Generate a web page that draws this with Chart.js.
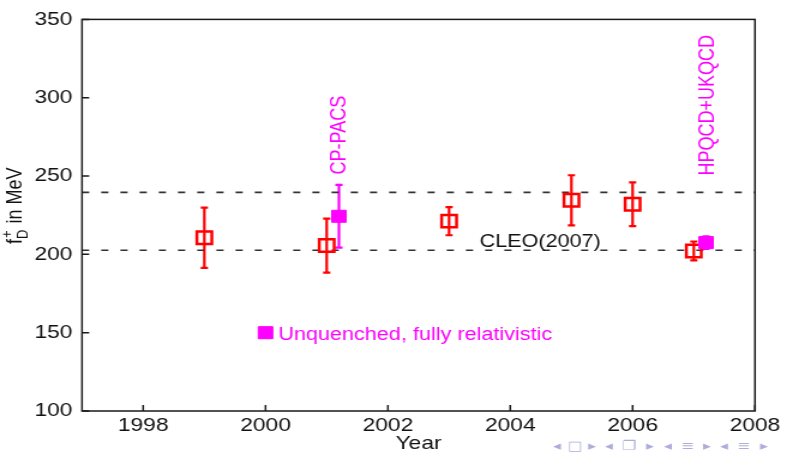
<!DOCTYPE html>
<html>
<head>
<meta charset="utf-8">
<script src="https://cdn.jsdelivr.net/npm/chart.js@4.4.1/dist/chart.umd.min.js"></script>
<style>
  html, body { margin: 0; padding: 0; background: #fff; overflow: hidden; }
  #chart { position: absolute; left: 0; top: 0; transform-origin: 0 0; transform: scaleX(1.19970); }
</style>
</head>
<body>
<canvas id="chart" width="656" height="452"></canvas>
<script>
// quenched / partially quenched results (red open squares)
const redYears = [1999, 2001, 2003, 2005, 2006, 2007];
const redValues = [210.6, 205.6, 221.2, 234.5, 232.0, 202.2];
const redErrors = [19.2, 17.2, 9.0, 16.0, 14.0, 6.0];

// unquenched, fully relativistic (magenta filled squares)
const magYears = [2001.2, 2007.2];
const magValues = [224.3, 207.5];
const magErrors = [20.0, 4.0];
const magLabels = ['CP-PACS', 'HPQCD+UKQCD'];

// legend marker
const legendPoint = [2000, 150];
const legendText = 'Unquenched, fully relativistic';

// CLEO(2007) band edges
const cleoBand = [239.6, 202.6];
const cleoText = 'CLEO(2007)';

const xTicks = [1998, 2000, 2002, 2004, 2006, 2008];
const yTicks = [100, 150, 200, 250, 300, 350];

const FONT = "'Liberation Sans', Arial, sans-serif";
const RED = '#ff0000';
const MAG = '#ff00ff';

function toPoints(xs, ys) {
  return xs.map((v, i) => ({ x: v, y: ys[i] }));
}

function drawErrors(ctx, xs, ys, xVals, yVals, errs, color) {
  ctx.strokeStyle = color;
  xVals.forEach((yr, i) => {
    const px = xs.getPixelForValue(yr);
    const top = ys.getPixelForValue(yVals[i] + errs[i]);
    const bot = ys.getPixelForValue(yVals[i] - errs[i]);
    ctx.beginPath();
    ctx.moveTo(px, top); ctx.lineTo(px, bot);
    ctx.moveTo(px - 3, top); ctx.lineTo(px + 3, top);
    ctx.moveTo(px - 3, bot); ctx.lineTo(px + 3, bot);
    ctx.stroke();
  });
}

function rotatedText(ctx, text, px, py, color) {
  ctx.save();
  ctx.translate(px, py);
  ctx.rotate(-Math.PI / 2);
  ctx.fillStyle = color;
  ctx.textAlign = 'left';
  ctx.textBaseline = 'alphabetic';
  ctx.fillText(text, 0, 0);
  ctx.restore();
}

const decor = {
  id: 'decor',
  beforeDatasetsDraw(chart) {
    const { ctx, scales: { x, y } } = chart;
    ctx.save();
    ctx.lineWidth = 2.2;
    drawErrors(ctx, x, y, redYears, redValues, redErrors, RED);
    drawErrors(ctx, x, y, magYears, magValues, magErrors, MAG);
    ctx.restore();
  },
  afterDraw(chart) {
    const { ctx, chartArea: a, scales: { x, y } } = chart;
    ctx.save();

    // frame and inward ticks
    ctx.strokeStyle = '#1a1a1a';
    ctx.lineWidth = 1.5;
    ctx.strokeRect(a.left, a.top, a.right - a.left, a.bottom - a.top);
    ctx.beginPath();
    yTicks.forEach(v => {
      const py = y.getPixelForValue(v);
      ctx.moveTo(a.left, py); ctx.lineTo(a.left + 6, py);
    });
    xTicks.forEach(v => {
      const px = x.getPixelForValue(v);
      ctx.moveTo(px, a.bottom); ctx.lineTo(px, a.bottom - 6);
    });
    ctx.stroke();

    // annotations
    ctx.font = '18px ' + FONT;
    ctx.textBaseline = 'alphabetic';
    ctx.textAlign = 'left';
    ctx.fillStyle = '#111';
    ctx.fillText(cleoText, x.getPixelForValue(2003.5), y.getPixelForValue(204.7));

    ctx.fillStyle = MAG;
    ctx.fillText(legendText, x.getPixelForValue(legendPoint[0] + 0.21), y.getPixelForValue(legendPoint[1] - 4.8));

    rotatedText(ctx, magLabels[0], x.getPixelForValue(2001.31), y.getPixelForValue(251), MAG);
    rotatedText(ctx, magLabels[1], x.getPixelForValue(2007.33), y.getPixelForValue(250.4), MAG);

    // axis titles
    ctx.fillStyle = '#111';
    ctx.textAlign = 'center';
    ctx.font = '19px ' + FONT;
    ctx.fillText('Year', (a.left + a.right) / 2, 449);

    ctx.save();
    ctx.translate(17.5, 244);
    ctx.rotate(-Math.PI / 2);
    ctx.textAlign = 'left';
    ctx.font = '18px ' + FONT;
    ctx.fillText('f', 0, 0);
    let w = ctx.measureText('f').width;
    ctx.font = '13px ' + FONT;
    ctx.fillText('D', w, 5);
    ctx.fillText('+', w + 1, -8);
    w += ctx.measureText('D').width + 1;
    ctx.font = '18px ' + FONT;
    ctx.fillText(' in MeV', w, 0);
    ctx.restore();

    // beamer navigation symbols
    ctx.fillStyle = '#adadda';
    ctx.font = "13px 'DejaVu Sans', sans-serif";
    ctx.textAlign = 'center';
    ctx.textBaseline = 'middle';
    const nav = [['◂', 557], ['□', 575], ['▸', 592], ['◂', 609], ['❐', 629], ['▸', 650],
                 ['◂', 668], ['≡', 688], ['▸', 707], ['◂', 724], ['≡', 744], ['▸', 764]];
    nav.forEach(([g, sx]) => ctx.fillText(g, sx / 1.1997, 447));

    ctx.restore();
  }
};

new Chart(document.getElementById('chart'), {
  type: 'scatter',
  data: {
    datasets: [
      {
        label: 'Unquenched',
        data: toPoints(magYears, magValues),
        pointStyle: 'rect',
        pointRadius: 8.5,
        backgroundColor: MAG,
        borderColor: MAG,
        borderWidth: 1,
      },
      {
        label: 'legend',
        data: [{ x: legendPoint[0], y: legendPoint[1] }],
        pointStyle: 'rect',
        pointRadius: 8.5,
        backgroundColor: MAG,
        borderColor: MAG,
        borderWidth: 1,
      },
      {
        label: 'Lattice',
        data: toPoints(redYears, redValues),
        pointStyle: 'rect',
        pointRadius: 8.8,
        backgroundColor: 'rgba(0,0,0,0)',
        borderColor: RED,
        borderWidth: 2.5,
      },
      {
        label: 'CLEO upper',
        data: [{ x: 1997, y: cleoBand[0] }, { x: 2008, y: cleoBand[0] }],
        showLine: true,
        pointRadius: 0,
        borderColor: '#333',
        borderWidth: 1.6,
        borderDash: [6, 10],
      },
      {
        label: 'CLEO lower',
        data: [{ x: 1997, y: cleoBand[1] }, { x: 2008, y: cleoBand[1] }],
        showLine: true,
        pointRadius: 0,
        borderColor: '#333',
        borderWidth: 1.6,
        borderDash: [6, 10],
      },
    ],
  },
  options: {
    responsive: false,
    animation: false,
    events: [],
    layout: { padding: { top: 17.3, right: 26.7, left: 0, bottom: 0 } },
    plugins: { legend: { display: false }, tooltip: { enabled: false } },
    scales: {
      x: {
        type: 'linear',
        min: 1997,
        max: 2008,
        grid: { display: false, drawTicks: false },
        border: { display: false },
        afterBuildTicks: scale => { scale.ticks = xTicks.map(v => ({ value: v })); },
        afterFit: scale => { scale.height = 41; },
        ticks: {
          padding: 3,
          color: '#111',
          font: { family: FONT, size: 19 },
          maxRotation: 0,
          autoSkip: false,
          callback: v => String(v),
        },
      },
      y: {
        min: 100,
        max: 350,
        grid: { display: false, drawTicks: false },
        border: { display: false },
        afterBuildTicks: scale => { scale.ticks = yTicks.map(v => ({ value: v })); },
        afterFit: scale => { scale.width = 68.35; },
        ticks: {
          padding: 8,
          color: '#111',
          font: { family: FONT, size: 19 },
          callback: v => String(v),
        },
      },
    },
  },
  plugins: [decor],
});
</script>
</body>
</html>
